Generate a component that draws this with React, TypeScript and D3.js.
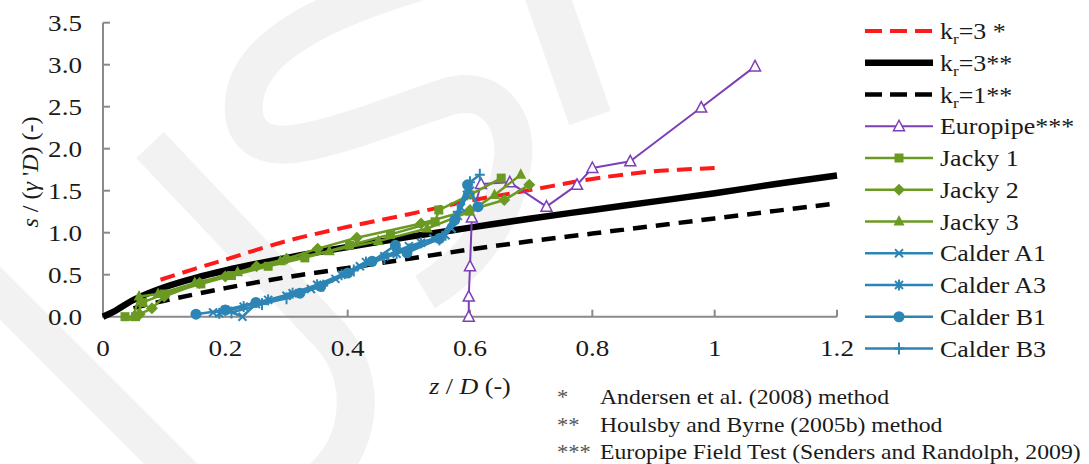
import React from "react";
import * as d3 from "d3";

type P = [number, number];

const xTicks = [0, 0.2, 0.4, 0.6, 0.8, 1, 1.2];
const xTickLabels = ["0", "0.2", "0.4", "0.6", "0.8", "1", "1.2"];
const yTicks = [0, 0.5, 1, 1.5, 2, 2.5, 3, 3.5];
const yTickLabels = ["0.0", "0.5", "1.0", "1.5", "2.0", "2.5", "3.0", "3.5"];

const kr3Andersen: P[] = [[0.094, 0.44], [0.15, 0.57], [0.2, 0.68], [0.3, 0.9], [0.4, 1.07], [0.5, 1.22], [0.6, 1.38], [0.7, 1.51], [0.8, 1.64], [0.9, 1.73], [1.0, 1.77]];
const kr3Houlsby: P[] = [[0.0, 0.0], [0.02, 0.07], [0.05, 0.2], [0.1, 0.35], [0.15, 0.46], [0.2, 0.55], [0.3, 0.7], [0.4, 0.83], [0.5, 0.95], [0.6, 1.06], [0.7, 1.17], [0.8, 1.27], [0.9, 1.37], [1.0, 1.47], [1.1, 1.58], [1.2, 1.68]];
const kr1Houlsby: P[] = [[0.05, 0.1], [0.07, 0.14], [0.1, 0.19], [0.2, 0.34], [0.3, 0.47], [0.4, 0.58], [0.5, 0.69], [0.6, 0.8], [0.7, 0.9], [0.8, 0.99], [0.9, 1.08], [1.0, 1.17], [1.1, 1.26], [1.2, 1.35]];
const europipe: P[] = [[0.598, 0.0], [0.598, 0.24], [0.6, 0.6], [0.603, 1.18], [0.618, 1.58], [0.665, 1.6], [0.725, 1.31], [0.775, 1.57], [0.8, 1.77], [0.862, 1.85], [0.978, 2.49], [1.066, 2.98]];
const jacky1: P[] = [[0.036, 0.0], [0.053, 0.0], [0.065, 0.17], [0.1, 0.27], [0.16, 0.39], [0.21, 0.49], [0.27, 0.6], [0.33, 0.7], [0.403, 0.85], [0.47, 0.98], [0.543, 1.13], [0.549, 1.27], [0.6, 1.45], [0.651, 1.65]];
const jacky2: P[] = [[0.06, 0.03], [0.08, 0.1], [0.1, 0.24], [0.158, 0.4], [0.2, 0.48], [0.251, 0.6], [0.3, 0.69], [0.351, 0.81], [0.415, 0.94], [0.52, 1.11], [0.6, 1.27], [0.656, 1.39], [0.697, 1.57]];
const jacky3: P[] = [[0.05, 0.0], [0.059, 0.24], [0.09, 0.27], [0.15, 0.4], [0.22, 0.53], [0.29, 0.66], [0.37, 0.78], [0.45, 0.9], [0.53, 1.05], [0.6, 1.25], [0.64, 1.45], [0.683, 1.69]];
const calderA1: P[] = [[0.18, 0.05], [0.2, 0.08], [0.228, 0.0], [0.25, 0.15], [0.3, 0.25], [0.34, 0.33], [0.38, 0.45], [0.42, 0.6], [0.46, 0.72], [0.5, 0.84], [0.54, 0.93], [0.57, 1.05], [0.585, 1.3], [0.6, 1.5]];
const calderA3: P[] = [[0.19, 0.04], [0.23, 0.12], [0.27, 0.2], [0.31, 0.28], [0.35, 0.38], [0.39, 0.5], [0.43, 0.65], [0.48, 0.75], [0.52, 0.88], [0.56, 0.97], [0.58, 1.2], [0.595, 1.45]];
const calderB1: P[] = [[0.152, 0.03], [0.2, 0.08], [0.25, 0.17], [0.322, 0.28], [0.356, 0.36], [0.4, 0.52], [0.44, 0.66], [0.478, 0.85], [0.497, 0.76], [0.55, 0.93], [0.575, 1.15], [0.596, 1.57], [0.613, 1.31]];
const calderB3: P[] = [[0.21, 0.05], [0.26, 0.15], [0.3, 0.22], [0.36, 0.37], [0.41, 0.55], [0.46, 0.7], [0.5, 0.8], [0.55, 0.92], [0.58, 1.25], [0.6, 1.6], [0.616, 1.69]];

const notes = [
  ["*", "Andersen et al. (2008) method"],
  ["**", "Houlsby and Byrne (2005b) method"],
  ["***", "Europipe Field Test (Senders and Randolph, 2009)"],
];

const RED = "#ff1a1a";
const BLACK = "#000000";
const PURPLE = "#7d3fb8";
const GREEN = "#6b9a22";
const BLUE = "#2c85b5";

type Series = {
  label: string;
  sub?: string;
  suffix?: string;
  data: P[];
  color: string;
  width: number;
  dash?: string;
  marker?: string;
  smooth?: boolean;
};

const series: Series[] = [
  { label: "k", sub: "r", suffix: "=3 *", data: kr3Andersen, color: RED, width: 4, dash: "15 8", smooth: true },
  { label: "k", sub: "r", suffix: "=3**", data: kr3Houlsby, color: BLACK, width: 6.5, smooth: true },
  { label: "k", sub: "r", suffix: "=1**", data: kr1Houlsby, color: BLACK, width: 4.5, dash: "14 9", smooth: true },
  { label: "Europipe***", data: europipe, color: PURPLE, width: 2, marker: "triOpen" },
  { label: "Jacky 1", data: jacky1, color: GREEN, width: 2.5, marker: "square" },
  { label: "Jacky 2", data: jacky2, color: GREEN, width: 2.5, marker: "diamond" },
  { label: "Jacky 3", data: jacky3, color: GREEN, width: 2.5, marker: "tri" },
  { label: "Calder A1", data: calderA1, color: BLUE, width: 2.5, marker: "x" },
  { label: "Calder A3", data: calderA3, color: BLUE, width: 2.5, marker: "star" },
  { label: "Calder B1", data: calderB1, color: BLUE, width: 2.5, marker: "circle" },
  { label: "Calder B3", data: calderB3, color: BLUE, width: 2.5, marker: "plus" },
];

const FONT = "Liberation Serif";
const SX = 1.13;
const TXT = "#1a1a1a";

function Marker({ type, cx, cy, color }: { type: string; cx: number; cy: number; color: string }) {
  switch (type) {
    case "triOpen":
      return <path d={`M${cx},${cy - 6} L${cx + 5.5},${cy + 4.5} L${cx - 5.5},${cy + 4.5} Z`} fill="#fff" stroke={color} strokeWidth={1.5} />;
    case "square":
      return <rect x={cx - 4.5} y={cy - 4.5} width={9} height={9} fill={color} />;
    case "diamond":
      return <path d={`M${cx},${cy - 6} L${cx + 6},${cy} L${cx},${cy + 6} L${cx - 6},${cy} Z`} fill={color} />;
    case "tri":
      return <path d={`M${cx},${cy - 6.5} L${cx + 5.5},${cy + 4} L${cx - 5.5},${cy + 4} Z`} fill={color} />;
    case "x":
      return (
        <g stroke={color} strokeWidth={2}>
          <line x1={cx - 4} y1={cy - 4} x2={cx + 4} y2={cy + 4} />
          <line x1={cx - 4} y1={cy + 4} x2={cx + 4} y2={cy - 4} />
        </g>
      );
    case "star":
      return (
        <g stroke={color} strokeWidth={2}>
          <line x1={cx - 4} y1={cy - 4} x2={cx + 4} y2={cy + 4} />
          <line x1={cx - 4} y1={cy + 4} x2={cx + 4} y2={cy - 4} />
          <line x1={cx} y1={cy - 5.5} x2={cx} y2={cy + 5.5} />
        </g>
      );
    case "circle":
      return <circle cx={cx} cy={cy} r={5.5} fill={color} />;
    case "plus":
      return (
        <g stroke={color} strokeWidth={2}>
          <line x1={cx} y1={cy - 6} x2={cx} y2={cy + 6} />
          <line x1={cx - 5} y1={cy} x2={cx + 5} y2={cy} />
        </g>
      );
    default:
      return null;
  }
}

function ST({ x, y, size, anchor = "start", children, sx = SX, color = TXT }: any) {
  return (
    <text
      transform={`translate(${x},${y}) scale(${sx},1)`}
      textAnchor={anchor}
      dy="0.35em"
      fontSize={size}
      fontFamily={FONT}
      fill={color}
    >
      {children}
    </text>
  );
}

export default function App() {
  const W = 1089;
  const H = 464;
  const x = d3.scaleLinear().domain([0, 1.2]).range([103, 837]);
  const y = d3.scaleLinear().domain([0, 3.5]).range([316.7, 22.7]);
  const lineLin = d3.line<P>().x((d) => x(d[0])).y((d) => y(d[1]));
  const lineSmooth = d3.line<P>().x((d) => x(d[0])).y((d) => y(d[1])).curve(d3.curveCatmullRom);

  const axisColor = "#8a8a8a";
  const legX1 = 865;
  const legX2 = 933;
  const legTextX = 940;
  const legY0 = 31;
  const legStep = 31.75;

  return (
    <svg width={W} height={H} style={{ display: "block", position: "absolute", left: 0, top: 0 }}>
      <rect width={W} height={H} fill="#fff" />
      {/* watermark */}
      <g fill="none" stroke="#f2f2f2" strokeWidth={38}>
        <path d="M150,145 L330,335 A102,102 0 0 1 186,479 L-60,233" />
        <path d="M425,-20 C340,5 255,40 245,95 C238,135 262,150 300,143 C340,137 400,112 447,97 C495,82 520,125 512,165 C505,215 475,262 425,292" />
        <path d="M545,-10 L590,118" strokeWidth={44} />
      </g>

      {/* axes */}
      <g stroke={axisColor} strokeWidth={2}>
        <line x1={103} y1={y(3.5)} x2={103} y2={y(0) + 1} />
        <line x1={102} y1={y(0)} x2={x(1.2)} y2={y(0)} />
        {yTicks.map((t) => (
          <line key={"yt" + t} x1={103} x2={110} y1={y(t)} y2={y(t)} />
        ))}
        {xTicks.slice(1).map((t) => (
          <line key={"xt" + t} x1={x(t)} x2={x(t)} y1={y(0)} y2={y(0) - 7} />
        ))}
      </g>
      {yTicks.map((t, i) => (
        <ST key={"yl" + t} x={82} y={y(t)} size={24} anchor="end">
          {yTickLabels[i]}
        </ST>
      ))}
      {xTicks.map((t, i) => (
        <ST key={"xl" + t} x={x(t)} y={348} size={24} anchor="middle">
          {xTickLabels[i]}
        </ST>
      ))}

      {/* axis titles */}
      <ST x={470} y={386} size={23} anchor="middle">
        <tspan fontStyle="italic">z</tspan> / <tspan fontStyle="italic">D</tspan> (-)
      </ST>
      <text
        transform="translate(30,172) rotate(-90)"
        textAnchor="middle"
        dy="0.35em"
        fontSize={24}
        fontFamily={FONT}
        fill={TXT}
      >
        <tspan fontStyle="italic">s</tspan> / (<tspan fontStyle="italic">γ</tspan> '<tspan fontStyle="italic">D</tspan>) (-)
      </text>

      {/* series */}
      {series.map((s, i) => (
        <g key={"s" + i}>
          <path
            d={(s.smooth ? lineSmooth : lineLin)(s.data) || ""}
            fill="none"
            stroke={s.color}
            strokeWidth={s.width}
            strokeDasharray={s.dash}
            strokeLinejoin="round"
          />
          {s.marker &&
            s.data.map((d, j) => <Marker key={j} type={s.marker!} cx={x(d[0])} cy={y(d[1])} color={s.color} />)}
        </g>
      ))}

      {/* legend */}
      {series.map((s, i) => {
        const ly = legY0 + i * legStep;
        return (
          <g key={"l" + i}>
            <line x1={legX1} x2={legX2} y1={ly} y2={ly} stroke={s.color} strokeWidth={s.width} strokeDasharray={s.dash ? "17 8" : undefined} />
            {s.marker && <Marker type={s.marker} cx={(legX1 + legX2) / 2} cy={ly} color={s.color} />}
            <ST x={legTextX} y={ly} size={23}>
              {s.sub ? (
                <>
                  {s.label}
                  <tspan fontSize={15} dy="5">{s.sub}</tspan>
                  <tspan dy="-5">{s.suffix}</tspan>
                </>
              ) : (
                s.label
              )}
            </ST>
          </g>
        );
      })}

      {/* notes */}
      {notes.map((n, i) => (
        <g key={"n" + i}>
          <ST x={557} y={397 + i * 27.5} size={20} color="#555">
            {n[0]}
          </ST>
          <ST x={600} y={397 + i * 27.5} size={21}>
            {n[1]}
          </ST>
        </g>
      ))}
    </svg>
  );
}
